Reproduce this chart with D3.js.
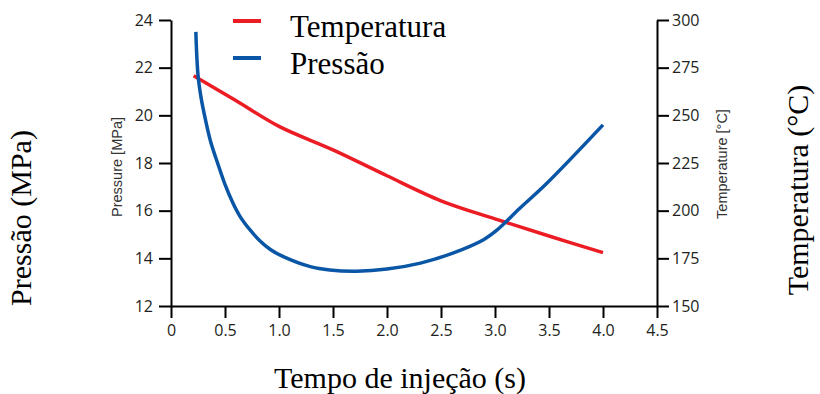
<!DOCTYPE html>
<html>
<head>
<meta charset="utf-8">
<script src="https://cdn.jsdelivr.net/npm/d3@7"></script>
<style>
 body { margin: 0; background: #fff; }
 .tick text { font-family: "Open Sans", sans-serif; font-size: 16px; fill: #231f20; }
 .serif { font-family: "Liberation Serif", "Times New Roman", serif; fill: #000; }
</style>
</head>
<body>
<script>
var width = 820, height = 394;
var margin = {top: 20, left: 171, right: 163, bottom: 88};
var w = width - margin.left - margin.right, h = height - margin.top - margin.bottom;

// data
var tempTime = [0.21, 0.6, 1.0, 1.5, 2.0, 2.5, 3.0, 3.5, 4.0];
var tempValue = [270.8, 257.8, 244.2, 231.9, 218.3, 205.2, 195.7, 186.7, 178.0];

var presTime = [0.23, 0.25, 0.28, 0.32, 0.37, 0.435, 0.5, 0.57, 0.64, 0.73, 0.82, 0.92, 1.04, 1.29, 1.47, 1.72, 2.0, 2.31, 2.61, 2.89, 3.02, 3.23, 3.48, 4.0];
var presValue = [23.5, 21.7, 20.7, 19.8, 18.85, 17.95, 17.1, 16.35, 15.75, 15.2, 14.75, 14.37, 14.07, 13.65, 13.51, 13.46, 13.55, 13.8, 14.22, 14.77, 15.19, 16.1, 17.15, 19.6];

var xTicks = [0, 0.5, 1.0, 1.5, 2.0, 2.5, 3.0, 3.5, 4.0, 4.5];
var pTicks = [12, 14, 16, 18, 20, 22, 24];
var tTicks = [150, 175, 200, 225, 250, 275, 300];

var svg = d3.select('body').append('svg').attr('width', width).attr('height', height);
var g = svg.append('g').attr('transform', 'translate(' + margin.left + ',' + margin.top + ')');

var x = d3.scaleLinear().domain([0, 4.5]).range([0, w]);
var yP = d3.scaleLinear().domain([12, 24]).range([h, 0]);
var yT = d3.scaleLinear().domain([150, 300]).range([h, 0]);

function styleAxis(sel) {
 sel.select('.domain').attr('stroke', '#000').attr('stroke-width', 2);
 sel.selectAll('.tick line').attr('stroke', '#000').attr('stroke-width', 2);
}

g.append('g').attr('transform', 'translate(0,' + h + ')')
 .call(d3.axisBottom(x).tickValues(xTicks).tickSize(12).tickSizeOuter(0).tickPadding(7)
  .tickFormat(function(d) { return d === 0 ? '0' : d3.format('.1f')(d); }))
 .call(styleAxis);

g.append('g')
 .call(d3.axisLeft(yP).tickValues(pTicks).tickSize(12).tickSizeOuter(0).tickPadding(6))
 .call(styleAxis);

g.append('g').attr('transform', 'translate(' + w + ',0)')
 .call(d3.axisRight(yT).tickValues(tTicks).tickSize(12).tickSizeOuter(0).tickPadding(3))
 .call(styleAxis);

// lines
var tempLine = d3.line()
 .x(function(d, i) { return x(tempTime[i]); })
 .y(function(d) { return yT(d); })
 .curve(d3.curveCatmullRom.alpha(0.5));
var presLine = d3.line()
 .x(function(d, i) { return x(presTime[i]); })
 .y(function(d) { return yP(d); })
 .curve(d3.curveCatmullRom.alpha(0.5));

g.append('path').attr('d', tempLine(tempValue))
 .attr('fill', 'none').attr('stroke', '#ec1c24').attr('stroke-width', 3.5);
g.append('path').attr('d', presLine(presValue))
 .attr('fill', 'none').attr('stroke', '#0a56a6').attr('stroke-width', 3.5);

// small inner axis labels
svg.append('text').attr('transform', 'translate(122,167) rotate(-90)')
 .attr('text-anchor', 'middle').style('font-family', 'Liberation Sans, Arial, sans-serif')
 .style('font-size', '14.5px').attr('fill', '#333').text('Pressure [MPa]');
svg.append('text').attr('transform', 'translate(727,164) rotate(-90)')
 .attr('text-anchor', 'middle').style('font-family', 'Liberation Sans, Arial, sans-serif')
 .style('font-size', '14.5px').attr('fill', '#333').text('Temperature [°C]');

// big axis titles
svg.append('text').attr('class', 'serif').attr('transform', 'translate(31,218) rotate(-90)')
 .attr('text-anchor', 'middle').style('font-size', '30px').text('Pressão (MPa)');
svg.append('text').attr('class', 'serif').attr('transform', 'translate(808,190) rotate(-90)')
 .attr('text-anchor', 'middle').style('font-size', '30px').text('Temperatura (°C)');
svg.append('text').attr('class', 'serif').attr('x', 400).attr('y', 388)
 .attr('text-anchor', 'middle').style('font-size', '30px').text('Tempo de injeção (s)');

// legend
var legend = [{name: 'Temperatura', color: '#ec1c24'}, {name: 'Pressão', color: '#0a56a6'}];
var lg = svg.append('g').selectAll('g').data(legend).join('g')
 .attr('transform', function(d, i) { return 'translate(0,' + (i * 37) + ')'; });
lg.append('line').attr('x1', 233).attr('x2', 261).attr('y1', 21).attr('y2', 21)
 .attr('stroke', function(d) { return d.color; }).attr('stroke-width', 4);
lg.append('text').attr('class', 'serif').attr('x', 290).attr('y', 37)
 .style('font-size', '31px').text(function(d) { return d.name; });
</script>
</body>
</html>
